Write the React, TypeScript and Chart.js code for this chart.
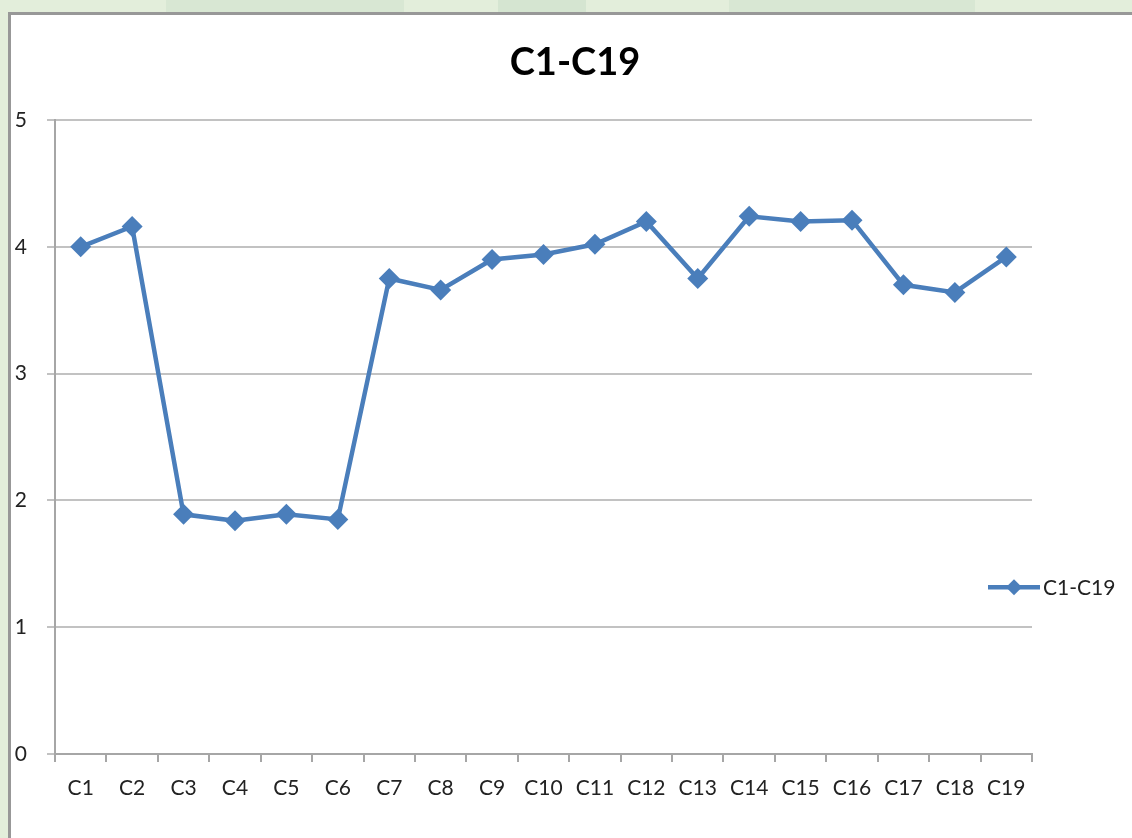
import React, { useEffect, useRef } from "react";
import { Chart, registerables } from "chart.js";

Chart.register(...registerables);

const TITLE = "C1-C19";
const SERIES_LABEL = "C1-C19";
const CATEGORIES = [
  "C1", "C2", "C3", "C4", "C5", "C6", "C7", "C8", "C9", "C10",
  "C11", "C12", "C13", "C14", "C15", "C16", "C17", "C18", "C19",
];
const VALUES = [
  4.0, 4.16, 1.89, 1.84, 1.89, 1.85, 3.75, 3.66, 3.9, 3.94,
  4.02, 4.2, 3.75, 4.24, 4.2, 4.21, 3.7, 3.64, 3.92,
];
const Y_TICKS = [0, 1, 2, 3, 4, 5];

const LINE_COLOR = "#4a7ebb";
const FONT = "Lato, 'Open Sans', sans-serif";

const W = 1132;
const H = 838;

const overlayPlugin = {
  id: "overlay",
  afterDraw(chart: any) {
    const { ctx, chartArea } = chart;
    ctx.save();
    // title
    ctx.fillStyle = "#000";
    ctx.font = `bold 38px ${FONT}`;
    ctx.textAlign = "center";
    ctx.textBaseline = "middle";
    ctx.fillText(TITLE, 575, 63);
    // legend
    const ds = chart.data.datasets[0];
    const ly = chartArea.top + (chartArea.bottom - chartArea.top) * 0.737;
    const lx0 = chartArea.right - 44;
    const lx1 = chartArea.right + 8;
    ctx.strokeStyle = ds.borderColor;
    ctx.lineWidth = 4.5;
    ctx.beginPath();
    ctx.moveTo(lx0, ly);
    ctx.lineTo(lx1, ly);
    ctx.stroke();
    const cx = (lx0 + lx1) / 2;
    const r = 8;
    ctx.fillStyle = ds.borderColor;
    ctx.beginPath();
    ctx.moveTo(cx, ly - r);
    ctx.lineTo(cx + r, ly);
    ctx.lineTo(cx, ly + r);
    ctx.lineTo(cx - r, ly);
    ctx.closePath();
    ctx.fill();
    ctx.fillStyle = "#222";
    ctx.font = `21px ${FONT}`;
    ctx.textAlign = "left";
    ctx.fillText(ds.label, lx1 + 3, ly + 1);
    ctx.restore();
  },
};

export default function App() {
  const ref = useRef<HTMLCanvasElement | null>(null);

  useEffect(() => {
    document.body.style.margin = "0";
    const canvas = ref.current;
    if (!canvas) return;
    const chart = new Chart(canvas, {
      type: "line",
      data: {
        labels: CATEGORIES,
        datasets: [
          {
            label: SERIES_LABEL,
            data: VALUES,
            borderColor: LINE_COLOR,
            backgroundColor: LINE_COLOR,
            borderWidth: 4.5,
            pointStyle: "rectRot",
            pointRadius: 10.5,
            pointBorderWidth: 0,
            pointBackgroundColor: LINE_COLOR,
            tension: 0,
          },
        ],
      },
      options: {
        animation: false,
        responsive: false,
        maintainAspectRatio: false,
        layout: { padding: { top: 120, right: 100, left: 0, bottom: 0 } },
        plugins: {
          legend: { display: false },
          title: { display: false },
          tooltip: { enabled: false },
        },
        scales: {
          x: {
            type: "category",
            offset: true,
            grid: {
              offset: true,
              drawOnChartArea: false,
              drawTicks: true,
              tickLength: 8,
              color: "#a6a6a6",
              lineWidth: 2,
            },
            border: { display: true, color: "#a6a6a6", width: 2 },
            ticks: {
              color: "#222",
              font: { family: FONT, size: 21 },
              padding: 14,
              maxRotation: 0,
              autoSkip: false,
            },
            afterFit(scale: any) {
              scale.height = 84;
            },
          },
          y: {
            min: 0,
            max: 5,
            afterBuildTicks(scale: any) {
              scale.ticks = Y_TICKS.map((v) => ({ value: v }));
            },
            grid: {
              color: "#c2c2c2",
              lineWidth: 2,
              drawTicks: true,
              tickLength: 8,
            },
            border: { display: true, color: "#a6a6a6", width: 2 },
            ticks: {
              color: "#222",
              font: { family: FONT, size: 21 },
              padding: 20,
            },
            afterFit(scale: any) {
              scale.width = 55;
            },
          },
        },
      },
      plugins: [overlayPlugin],
    });
    return () => chart.destroy();
  }, []);

  return (
    <div
      style={{
        position: "fixed",
        left: 0,
        top: 0,
        width: W,
        height: H,
        background: "#e3eedb",
        overflow: "hidden",
      }}
    >
      <div style={{ position: "absolute", left: 166, top: 0, width: 238, height: 12, background: "#d8e7d3" }} />
      <div style={{ position: "absolute", left: 498, top: 0, width: 88, height: 12, background: "#d5e5d1" }} />
      <div style={{ position: "absolute", left: 729, top: 0, width: 246, height: 12, background: "#d8e7d3" }} />
      <div
        style={{
          position: "absolute",
          left: 8,
          top: 12,
          width: W,
          height: H,
          background: "#fff",
          borderLeft: "3px solid #989898",
          borderTop: "3px solid #989898",
        }}
      />
      <canvas
        ref={ref}
        width={W}
        height={H}
        style={{ position: "absolute", left: 0, top: 0, width: W, height: H }}
      />
    </div>
  );
}
